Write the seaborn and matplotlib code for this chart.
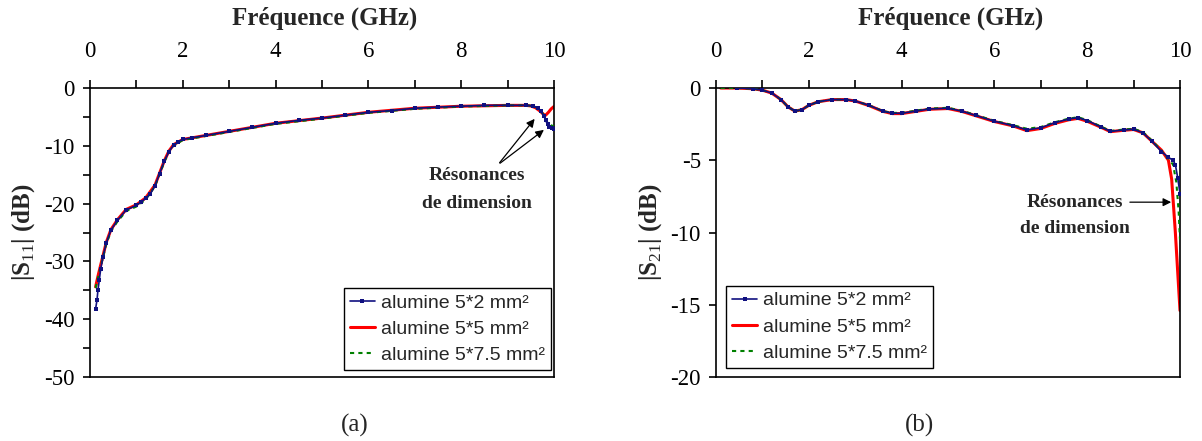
import numpy as np
import pandas as pd
import seaborn as sns
import matplotlib.pyplot as plt

# S11 curves (freq in GHz, level in dB)
s11_f_blue = [0.12, 0.15, 0.17, 0.20, 0.23, 0.28, 0.35, 0.45, 0.59, 0.78, 1.0, 1.1, 1.2, 1.3,
              1.4, 1.5, 1.6, 1.7, 1.8, 1.9, 2.0, 2.2, 2.5, 3.0, 3.5, 4.0, 4.5, 5.0, 5.5, 6.0,
              6.5, 7.0, 7.5, 8.0, 8.5, 9.0, 9.4, 9.55, 9.65, 9.72, 9.78, 9.82, 9.86, 9.9, 9.95, 10.0]
s11_blue = [-38.2, -36.7, -35.0, -33.2, -31.3, -29.2, -26.8, -24.6, -22.9, -21.1, -20.3, -19.7, -19.1, -18.3,
            -16.9, -14.8, -12.7, -11.0, -9.9, -9.3, -8.9, -8.6, -8.2, -7.5, -6.8, -6.1, -5.6, -5.2, -4.7, -4.2,
            -3.9, -3.5, -3.3, -3.15, -3.0, -3.0, -3.0, -3.1, -3.5, -4.0, -4.8, -5.6, -6.3, -6.8, -7.0, -7.1]

s11_f_red = [0.12, 0.17, 0.23, 0.28, 0.35, 0.45, 0.59, 0.78, 1.0, 1.2, 1.4, 1.5, 1.6, 1.7, 1.8, 2.0,
             2.5, 3.0, 4.0, 5.0, 6.0, 7.0, 8.0, 9.0, 9.4, 9.5, 9.6, 9.7, 9.78, 9.82, 9.88, 9.94, 10.0]
s11_red = [-34.4, -32.6, -30.6, -29.0, -26.7, -24.5, -22.8, -21.0, -20.2, -19.0, -16.8, -14.7, -12.6, -10.9, -9.8, -8.9,
           -8.2, -7.5, -6.1, -5.2, -4.2, -3.5, -3.15, -3.0, -3.0, -3.1, -3.4, -4.0, -4.6, -4.7, -4.2, -3.6, -3.2]

s11_f_green = [0.12, 0.17, 0.23, 0.28, 0.35, 0.45, 0.59, 0.78, 1.0, 1.2, 1.4, 1.5, 1.6, 1.7, 1.8, 2.0,
               2.5, 3.0, 4.0, 5.0, 6.0, 7.0, 8.0, 9.0, 9.4, 9.55, 9.65, 9.72, 9.78, 9.82, 9.86, 9.9, 9.95, 10.0]
s11_green = [-34.6, -32.9, -30.9, -29.3, -27.0, -24.8, -23.1, -21.3, -20.5, -19.3, -17.0, -14.9, -12.8, -11.1, -10.0, -9.0,
             -8.3, -7.6, -6.2, -5.3, -4.3, -3.6, -3.2, -3.0, -3.0, -3.1, -3.5, -4.0, -4.7, -5.4, -6.0, -6.3, -6.5, -6.6]

# S21 curves
s21_f_blue = [0.45, 0.8, 1.0, 1.2, 1.4, 1.55, 1.7, 1.85, 2.0, 2.2, 2.5, 2.8, 3.0, 3.3, 3.6, 3.8, 4.0,
              4.3, 4.6, 5.0, 5.3, 5.6, 6.0, 6.4, 6.7, 7.0, 7.3, 7.6, 7.8, 8.0, 8.3, 8.5, 8.8, 9.0,
              9.2, 9.4, 9.6, 9.75, 9.85, 9.9, 9.95, 10.0]
s21_blue = [0.0, -0.05, -0.15, -0.35, -0.8, -1.3, -1.6, -1.5, -1.2, -0.95, -0.8, -0.8, -0.9, -1.2, -1.6, -1.75, -1.75,
            -1.6, -1.45, -1.4, -1.6, -1.9, -2.3, -2.6, -2.9, -2.75, -2.4, -2.15, -2.05, -2.25, -2.7, -3.0, -2.9, -2.85,
            -3.1, -3.7, -4.4, -4.8, -5.0, -5.3, -6.2, -7.3]

s21_f_red = [0.1, 0.45, 0.8, 1.0, 1.2, 1.4, 1.55, 1.7, 1.85, 2.0, 2.2, 2.5, 2.8, 3.0, 3.3, 3.6, 3.8, 4.0,
             4.3, 4.6, 5.0, 5.3, 5.6, 6.0, 6.4, 6.7, 7.0, 7.3, 7.6, 7.8, 8.0, 8.3, 8.5, 8.8, 9.0,
             9.2, 9.4, 9.6, 9.75, 9.82, 9.9, 10.0]
s21_red = [0.0, 0.0, -0.05, -0.15, -0.35, -0.8, -1.3, -1.6, -1.5, -1.2, -0.95, -0.8, -0.8, -0.9, -1.22, -1.62, -1.77, -1.77,
           -1.62, -1.47, -1.42, -1.62, -1.92, -2.32, -2.62, -2.95, -2.8, -2.45, -2.2, -2.1, -2.3, -2.72, -3.02, -2.92, -2.87,
           -3.1, -3.7, -4.3, -5.0, -6.3, -10.0, -15.4]

s21_f_green = [0.1, 0.45, 0.8, 1.0, 1.2, 1.4, 1.55, 1.7, 1.85, 2.0, 2.2, 2.5, 2.8, 3.0, 3.3, 3.6, 3.8, 4.0,
               4.3, 4.6, 5.0, 5.3, 5.6, 6.0, 6.4, 6.7, 7.0, 7.3, 7.6, 7.8, 8.0, 8.3, 8.5, 8.8, 9.0,
               9.2, 9.4, 9.6, 9.75, 9.85, 9.92, 9.97, 10.0]
s21_green = [0.0, 0.0, -0.05, -0.15, -0.35, -0.8, -1.3, -1.6, -1.5, -1.2, -0.95, -0.8, -0.8, -0.9, -1.2, -1.6, -1.72, -1.72,
             -1.57, -1.42, -1.37, -1.57, -1.87, -2.27, -2.57, -2.82, -2.7, -2.37, -2.12, -2.02, -2.22, -2.67, -2.97, -2.87, -2.82,
             -3.05, -3.65, -4.35, -4.9, -5.3, -6.5, -8.5, -10.5]

labels = ["alumine 5*2 mm²", "alumine 5*5 mm²", "alumine 5*7.5 mm²"]

sns.set_style("ticks")
plt.rcParams['font.family'] = ['Liberation Serif', 'DejaVu Serif']
plt.rcParams['mathtext.fontset'] = 'custom'
plt.rcParams['mathtext.rm'] = 'Liberation Serif'
plt.rcParams['mathtext.bf'] = 'Liberation Serif:bold'
plt.rcParams['axes.unicode_minus'] = False

fig = plt.figure(figsize=(12.02, 4.41), dpi=100)
ax1 = fig.add_axes([0.0749, 0.1451, 0.386, 0.6553])
ax2 = fig.add_axes([0.5957, 0.1451, 0.386, 0.6553])

def draw(ax, fb, yb, fr, yr, fg, yg):
    sns.lineplot(x=fr, y=yr, ax=ax, color="#ff0000", lw=2.2, sort=False, estimator=None,
                 label=labels[1], zorder=2)
    sns.lineplot(x=fg, y=yg, ax=ax, color="#008000", lw=1.5, ls=(0, (2, 2)), sort=False,
                 estimator=None, label=labels[2], zorder=3)
    sns.lineplot(x=fb, y=yb, ax=ax, color="#101080", lw=3.2, marker="s", markersize=3.0,
                 markeredgewidth=0, sort=False, estimator=None, label=labels[0], zorder=4)
    h, l = ax.get_legend_handles_labels()
    order = [2, 0, 1]
    return [h[i] for i in order], [l[i] for i in order]

h1, l1 = draw(ax1, s11_f_blue, s11_blue, s11_f_red, s11_red, s11_f_green, s11_green)
h2, l2 = draw(ax2, s21_f_blue, s21_blue, s21_f_red, s21_red, s21_f_green, s21_green)
h1[0].set_linewidth(1.2)
h2[0].set_linewidth(1.2)

for ax in (ax1, ax2):
    ax.set_xlim(0, 10)
    ax.xaxis.tick_top()
    ax.xaxis.set_label_position('top')
    ax.set_xticks(np.arange(0, 11, 2))
    ax.set_xticks(np.arange(1, 10, 2), minor=True)
    ax.tick_params(axis='x', which='both', direction='out', length=6, width=1.2,
                   labelsize=16.5, pad=13, top=True, bottom=False, colors='black')
    ax.tick_params(axis='y', which='both', direction='out', length=5, width=1.2,
                   labelsize=16.5, pad=6, left=True, right=False, colors='black')
    for sp in ax.spines.values():
        sp.set_visible(True)
        sp.set_color('black')
        sp.set_linewidth(1.2)
    ax.set_xlabel("Fréquence (GHz)", fontsize=18, fontweight='bold')
    ax.xaxis.set_label_coords(0.506, 1.242)
    ax.xaxis.label.set_va('center')

ax1.set_ylim(-50, 0)
ax1.set_yticks(np.arange(-50, 1, 10))
ax1.set_yticks(np.arange(-45, 0, 10), minor=True)
ax2.set_ylim(-20, 0)
ax2.set_yticks(np.arange(-20, 1, 5))

ax1.set_ylabel(r"|S$_{11}$| (dB)", fontsize=18, fontweight='bold')
ax1.yaxis.set_label_coords(-0.144, 0.5)
ax2.set_ylabel(r"|S$_{21}$| (dB)", fontsize=18, fontweight='bold')
ax2.yaxis.set_label_coords(-0.142, 0.5)
for ax in (ax1, ax2):
    ax.yaxis.label.set_va('center')

leg_kw = dict(prop={'family': 'Liberation Sans', 'size': 14}, frameon=True, fancybox=False,
              edgecolor='black', framealpha=1, handlelength=1.3, handletextpad=0.3,
              labelspacing=0.45, borderpad=0.3, borderaxespad=0)
lg1 = ax1.legend(h1, l1, loc='lower right', bbox_to_anchor=(0.993, 0.024), **leg_kw)
lg2 = ax2.legend(h2, l2, loc='lower left', bbox_to_anchor=(0.022, 0.031), **leg_kw)
for lg in (lg1, lg2):
    lg.get_frame().set_linewidth(1.0)

ax1.text(8.34, -15.05, "Résonances", ha='center', va='center', fontsize=14, fontweight='bold')
ax1.text(8.34, -19.9, "de dimension", ha='center', va='center', fontsize=14, fontweight='bold')
ax1.annotate("", xy=(9.62, -4.96), xytext=(8.79, -13.3),
             arrowprops=dict(arrowstyle='-|>', color='black', lw=0.9, mutation_scale=12))
ax1.annotate("", xy=(9.83, -6.95), xytext=(8.79, -13.3),
             arrowprops=dict(arrowstyle='-|>', color='black', lw=0.9, mutation_scale=12))

ax2.text(7.74, -7.9, "Résonances", ha='center', va='center', fontsize=14, fontweight='bold')
ax2.text(7.74, -9.74, "de dimension", ha='center', va='center', fontsize=14, fontweight='bold')
ax2.annotate("", xy=(9.87, -7.9), xytext=(8.86, -7.9),
             arrowprops=dict(arrowstyle='-|>', color='black', lw=0.9, mutation_scale=12))

fig.text(0.295, 0.036, "(a)", ha='center', va='center', fontsize=18)
fig.text(0.765, 0.036, "(b)", ha='center', va='center', fontsize=18)

fig.savefig("out.png", dpi=100, facecolor='white')
